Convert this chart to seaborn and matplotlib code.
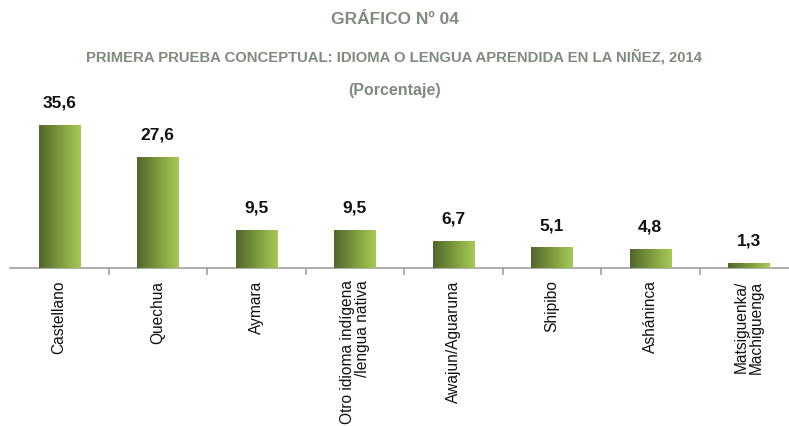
import numpy as np
import pandas as pd
import matplotlib
matplotlib.use("Agg")
import matplotlib.pyplot as plt
from matplotlib.colors import LinearSegmentedColormap
import seaborn as sns

idiomas = ["Castellano", "Quechua", "Aymara", "Otro idioma indígena\n/lengua nativa",
           "Awajun/Aguaruna", "Shipibo", "Asháninca", "Matsiguenka/\nMachiguenga"]
porcentaje = [35.6, 27.6, 9.5, 9.5, 6.7, 5.1, 4.8, 1.3]

df = pd.DataFrame({"idioma": idiomas, "pct": porcentaje})

sns.set_style("white")
plt.rcParams["font.family"] = ["Liberation Sans", "DejaVu Sans"]

fig = plt.figure(figsize=(7.89, 4.26), dpi=100)
ax = fig.add_axes([10 / 789, 1 - 268 / 426, 788 / 789, 158 / 426])

sns.barplot(data=df, x="idioma", y="pct", ax=ax, width=0.42, color="#7fa040",
            edgecolor="none", saturation=1)

# horizontal gradient on each bar
cmap = LinearSegmentedColormap.from_list("verde", ["#52662b", "#7d9a3e", "#a5ca54"])
grad = np.linspace(0, 1, 256).reshape(1, -1)
for bar in ax.patches:
    x0, y0 = bar.get_x(), bar.get_y()
    w, h = bar.get_width(), bar.get_height()
    im = ax.imshow(grad, cmap=cmap, extent=[x0, x0 + w, y0, y0 + h],
                   aspect="auto", zorder=3)
    im.set_clip_path(bar)
    bar.set_facecolor("none")

for i, v in enumerate(porcentaje):
    ax.text(i, v + 3.6, f"{v:.1f}".replace(".", ","), ha="center", va="bottom",
            fontsize=12.5, fontweight="bold", color="#111111")

ax.set_xlim(-0.5, 7.5)
ax.set_ylim(0, 39.3)
ax.set_xlabel("")
ax.set_ylabel("")
ax.set_yticks([])
for s in ["top", "right", "left"]:
    ax.spines[s].set_visible(False)
ax.spines["bottom"].set_color("#a0a0a0")
ax.spines["bottom"].set_linewidth(1.2)

ax.set_xticks(np.arange(len(idiomas)))
ax.set_xticklabels(idiomas, rotation=90, va="top", ha="center", fontsize=11.2,
                   multialignment="right", linespacing=1.0, color="#111111")
ax.tick_params(axis="x", which="major", length=0, pad=9)
ax.set_xticks(np.arange(len(idiomas)) + 0.5, minor=True)
ax.tick_params(axis="x", which="minor", bottom=True, length=5, color="#a0a0a0",
               width=1.2, direction="out")

tcolor = "#7f8b7c"
fig.text(0.5, 1 - 20 / 426, "GRÁFICO Nº 04", ha="center", va="center", color=tcolor,
         fontsize=12.5, fontweight="bold")
fig.text(0.5, 1 - 57 / 426, "PRIMERA PRUEBA CONCEPTUAL: IDIOMA O LENGUA APRENDIDA EN LA NIÑEZ, 2014",
         ha="center", va="center", color=tcolor, fontsize=10.7, fontweight="bold")
fig.text(0.5, 1 - 90 / 426, "(Porcentaje)", ha="center", va="center", color=tcolor,
         fontsize=11.5, fontweight="bold")

fig.savefig("out.png", dpi=100)
